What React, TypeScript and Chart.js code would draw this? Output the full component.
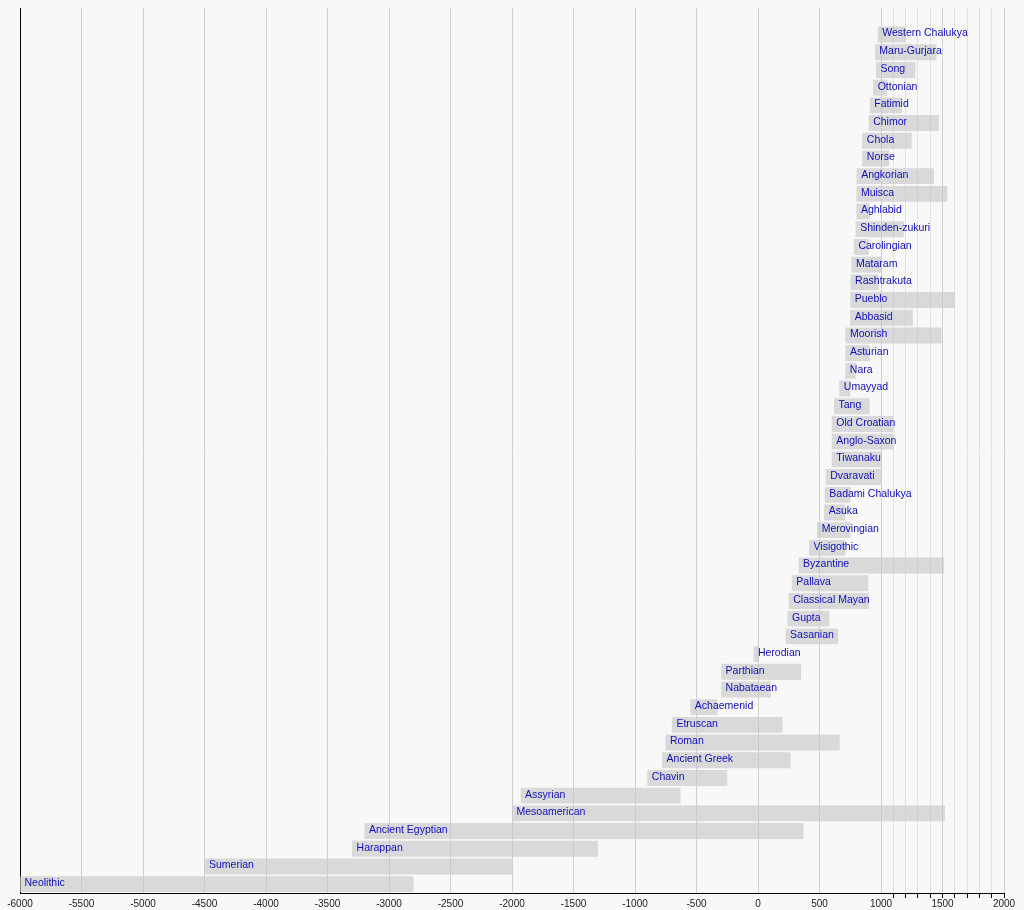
import { useEffect, useRef } from 'react';
import Chart from 'chart.js/auto';

// architectural styles, top to bottom
const styles = [
  'Western Chalukya', 'Maru-Gurjara', 'Song', 'Ottonian', 'Fatimid', 'Chimor', 'Chola', 'Norse',
  'Angkorian', 'Muisca', 'Aghlabid', 'Shinden-zukuri', 'Carolingian', 'Mataram', 'Rashtrakuta',
  'Pueblo', 'Abbasid', 'Moorish', 'Asturian', 'Nara', 'Umayyad', 'Tang', 'Old Croatian',
  'Anglo-Saxon', 'Tiwanaku', 'Dvaravati', 'Badami Chalukya', 'Asuka', 'Merovingian', 'Visigothic',
  'Byzantine', 'Pallava', 'Classical Mayan', 'Gupta', 'Sasanian', 'Herodian', 'Parthian',
  'Nabataean', 'Achaemenid', 'Etruscan', 'Roman', 'Ancient Greek', 'Chavin', 'Assyrian',
  'Mesoamerican', 'Ancient Egyptian', 'Harappan', 'Sumerian', 'Neolithic',
];

const startYears = [
  973, 950, 960, 936, 909, 900, 848, 848,
  802, 800, 800, 794, 780, 760, 753,
  750, 750, 711, 711, 710, 661, 618, 600,
  600, 600, 550, 543, 538, 481, 415,
  330, 275, 250, 240, 224, -37, -300,
  -300, -550, -700, -753, -780, -900, -1930,
  -2000, -3200, -3300, -4500, -6000,
];

const endYears = [
  1200, 1450, 1279, 1050, 1171, 1470, 1250, 1066,
  1431, 1540, 909, 1185, 900, 1000, 982,
  1600, 1258, 1492, 910, 794, 750, 907, 1100,
  1100, 1000, 1000, 753, 710, 751, 711,
  1512, 897, 900, 580, 651, 4, 350,
  106, -330, 200, 665, 265, -250, -630,
  1520, 370, -1300, -2000, -2800,
];

// labelled ticks every 500 years, then unlabelled ticks every century after 1000
const majorTicks = [-6000, -5500, -5000, -4500, -4000, -3500, -3000, -2500, -2000, -1500, -1000, -500, 0, 500, 1000, 1500, 2000];
const minorTicks = [1100, 1200, 1300, 1400, 1600, 1700, 1800, 1900];

const labelFont = '10.5px "Liberation Sans", Arial, sans-serif';

const barLabels = {
  id: 'barLabels',
  afterDatasetsDraw(chart: any) {
    const { ctx, scales } = chart;
    const meta = chart.getDatasetMeta(0);
    ctx.save();
    ctx.font = labelFont;
    ctx.fillStyle = '#0f0fb8';
    ctx.textBaseline = 'middle';
    ctx.textAlign = 'left';
    styles.forEach((name, i) => {
      const el = meta.data[i + 1];
      if (!el) return;
      const x = scales.x.getPixelForValue(startYears[i]);
      ctx.fillText(name, x + 4.5, el.y - 1);
    });
    ctx.restore();
  },
};

export default function App() {
  const canvasRef = useRef<HTMLCanvasElement>(null);

  useEffect(() => {
    document.body.style.margin = '0';
    document.body.style.background = '#f8f8f8';
    if (!canvasRef.current) return;

    const chart = new Chart(canvasRef.current, {
      type: 'bar',
      data: {
        labels: ['', ...styles],
        datasets: [
          {
            data: [null, ...styles.map((_, i) => [startYears[i], endYears[i]])] as any,
            backgroundColor: 'rgba(200, 200, 200, 0.65)',
            borderWidth: 0,
            barPercentage: 0.9,
            categoryPercentage: 1,
          },
        ],
      },
      options: {
        indexAxis: 'y',
        animation: false,
        responsive: true,
        maintainAspectRatio: false,
        layout: { padding: { left: 20, right: 20, top: 8, bottom: 0 } },
        plugins: {
          legend: { display: false },
          tooltip: { enabled: false },
        },
        scales: {
          x: {
            type: 'linear',
            min: -6000,
            max: 2000,
            afterBuildTicks: (axis: any) => {
              axis.ticks = [...majorTicks, ...minorTicks]
                .sort((a, b) => a - b)
                .map((value) => ({ value }));
            },
            ticks: {
              autoSkip: false,
              maxRotation: 0,
              padding: 0,
              color: '#222',
              font: { family: '"Liberation Sans", Arial, sans-serif', size: 10 },
              callback: (value: any) => (value % 500 === 0 ? String(value) : ''),
            },
            grid: {
              color: (c: any) => (c.tick && c.tick.value % 500 === 0 ? '#d0d0d0' : '#e2e2e2'),
              tickColor: (c: any) => (c.tick && c.tick.value > 1000 ? '#000' : 'rgba(0,0,0,0)'),
              tickLength: 5,
            },
            border: { display: true, color: '#000', width: 1 },
          },
          y: {
            type: 'category',
            ticks: { display: false },
            grid: { display: false, drawTicks: false },
            border: { display: true, color: '#000', width: 1 },
          },
        },
      },
      plugins: [barLabels],
    });

    return () => chart.destroy();
  }, []);

  return (
    <div style={{ position: 'relative', width: 1024, height: 910 }}>
      <canvas ref={canvasRef} />
    </div>
  );
}
